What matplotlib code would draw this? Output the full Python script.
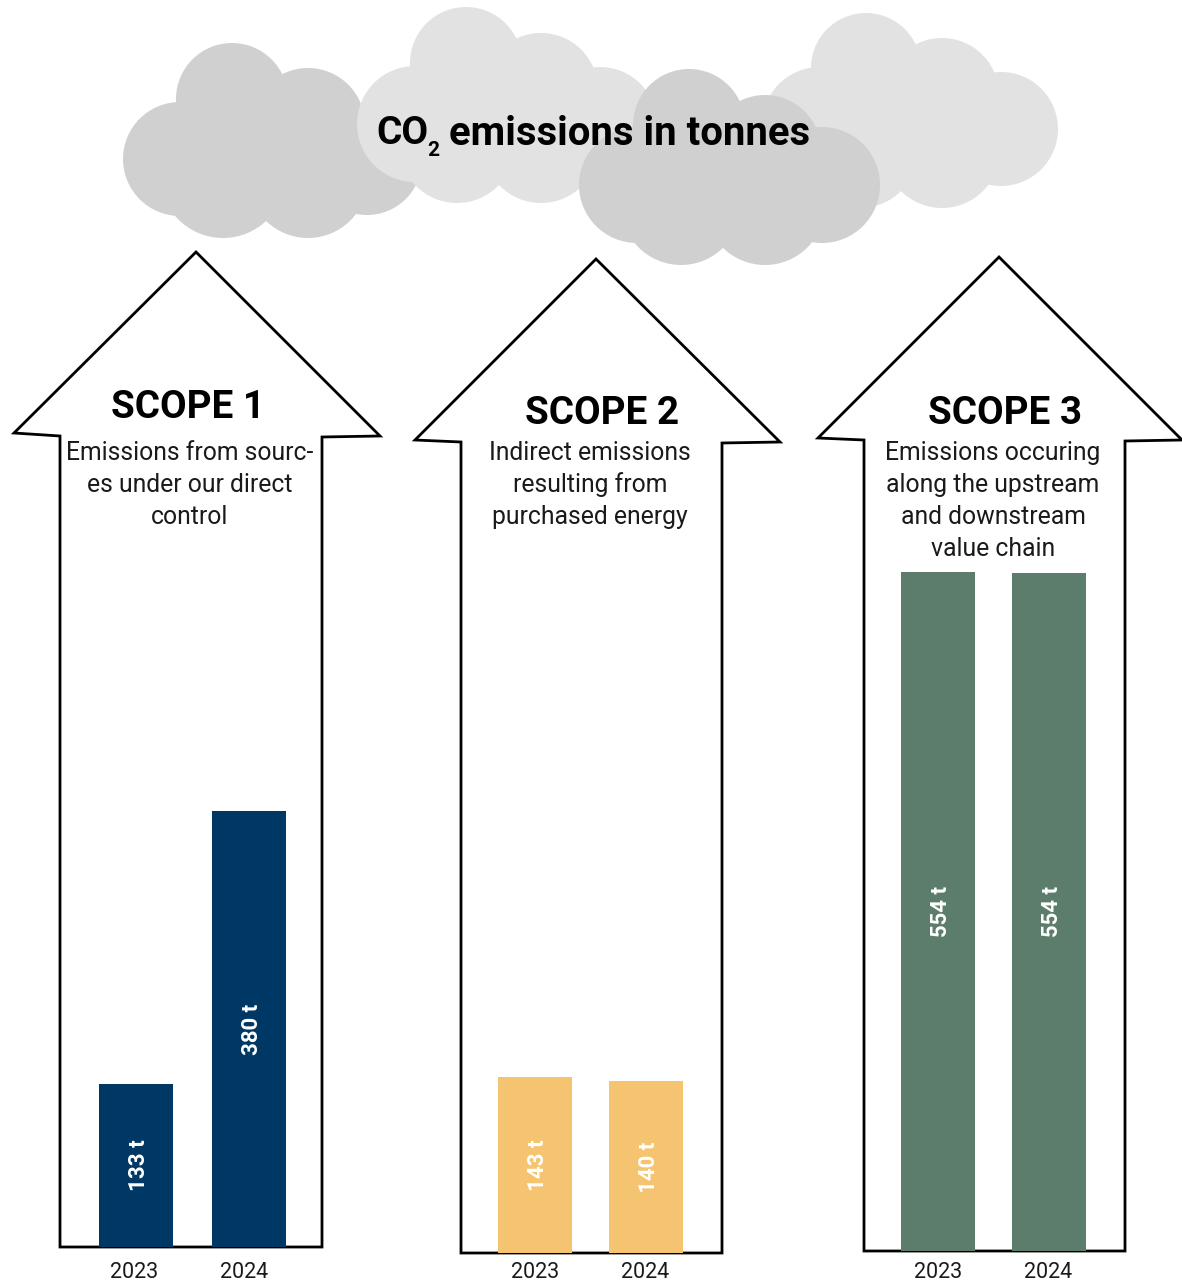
import matplotlib
matplotlib.use("Agg")
import matplotlib.pyplot as plt
from matplotlib.patches import Circle, Polygon

W, H = 1182, 1280
plt.rcParams['font.family'] = ['Roboto', 'DejaVu Sans']

# ----- data -----
years = ["2023", "2024"]
scope_names = ["SCOPE 1", "SCOPE 2", "SCOPE 3"]
scope_texts = [
    "Emissions from sourc-\nes under our direct\ncontrol",
    "Indirect emissions\nresulting from\npurchased energy",
    "Emissions occuring\nalong the upstream\nand downstream\nvalue chain",
]
# bar heights, labels as printed
scope1_heights = [133, 356]
scope2_heights = [143.5, 140.5]
scope3_heights = [554, 553.5]
scope1_labels = ["133 t", "380 t"]
scope2_labels = ["143 t", "140 t"]
scope3_labels = ["554 t", "554 t"]
bar_colors = ["#003865", "#F4C470", "#5C7C6C"]

# ----- layout in pixels -----
PX_PER_T = 1.225
BAR_W = 74
baselines = [1247, 1253, 1251]
bar_lefts = [(99, 212), (498, 609), (901, 1012)]
arrows = [
    [(196, 252), (14, 433), (60, 436), (60, 1247), (322, 1247), (322, 437), (380, 436)],
    [(596, 259), (415, 440), (461, 442), (461, 1253), (722, 1253), (722, 443), (780, 442)],
    [(999, 257), (818, 438), (864, 440), (864, 1251), (1125, 1251), (1125, 441), (1182, 440)],
]
year_x = [(134, 244), (535, 645), (938, 1048)]
name_pos = [(188, 408), (602, 414), (1005, 414)]
text_x = [190, 590, 993]

fig = plt.figure(figsize=(W / 100, H / 100), dpi=100)
bg = fig.add_axes([0, 0, 1, 1])
bg.set_xlim(0, W)
bg.set_ylim(H, 0)
bg.axis("off")

# ----- clouds -----
DARK = "#D0D0D0"
LIGHT = "#E2E2E2"


def cloud(circles, color, z):
    for cx, cy, r in circles:
        bg.add_patch(Circle((cx, cy), r, fc=color, ec="none", zorder=z))
    pts = [(c[0], c[1]) for c in circles]
    bg.add_patch(Polygon(pts, fc=color, ec="none", zorder=z))


cloud([(232, 99, 56), (308, 125, 57), (367, 160, 55), (308, 178, 60), (223, 175, 63), (180, 159, 57)], DARK, 1)
cloud([(866, 68, 55), (942, 95, 57), (1001, 129, 57), (942, 150, 58), (860, 150, 58), (820, 125, 58)], LIGHT, 1)
cloud([(466, 63, 56), (541, 90, 57), (600, 124, 57), (541, 145, 58), (457, 145, 58), (415, 124, 58)], LIGHT, 2)
cloud([(689, 125, 56), (765, 151, 56), (822, 185, 58), (765, 205, 60), (681, 205, 60), (637, 185, 58)], DARK, 3)

# title, subscript set by hand
bg.text(376, 134, "CO", fontsize=28, fontweight="bold", va="center", ha="left", color="black", zorder=5)
bg.text(427, 150, "2", fontsize=15, fontweight="bold", va="center", ha="left", color="black", zorder=5)
bg.text(449, 134, "emissions in tonnes", fontsize=28.8, fontweight="bold", va="center", ha="left", color="black", zorder=5)

# ----- arrows + texts -----
for i in range(3):
    bg.add_patch(Polygon(arrows[i], closed=True, fc="white", ec="black", lw=2, joinstyle="miter", zorder=6))
    bg.text(name_pos[i][0], name_pos[i][1], scope_names[i], fontsize=27.8, fontweight="bold",
            ha="center", va="center", color="black", zorder=7)
    for j, line in enumerate(scope_texts[i].split("\n")):
        bg.text(text_x[i], 453 + j * 32, line, fontsize=17.8, ha="center", va="center",
                color="#1A1A1A", zorder=7)
    for x, y in zip(year_x[i], years):
        bg.text(x, 1272, y, fontsize=15.5, ha="center", va="center", color="#1A1A1A", zorder=7)

# ----- bars -----
heights = [scope1_heights, scope2_heights, scope3_heights]
labels = [scope1_labels, scope2_labels, scope3_labels]
for i in range(3):
    x0 = arrows[i][3][0]
    x1 = arrows[i][4][0]
    base = baselines[i]
    top = 560
    ax = fig.add_axes([x0 / W, 1 - base / H, (x1 - x0) / W, (base - top) / H], zorder=2)
    ax.patch.set_alpha(0)
    ax.axis("off")
    ax.set_xlim(x0, x1)
    ax.set_ylim(0, (base - top) / PX_PER_T)
    centers = [left + BAR_W / 2 for left in bar_lefts[i]]
    bars = ax.bar(centers, heights[i], width=BAR_W, color=bar_colors[i])
    texts = ax.bar_label(bars, labels=labels[i], label_type="center", rotation=90, color="white",
                         fontweight="bold", fontsize=16)
    for t in texts:
        t.xyann = (2.2, 0)

fig.savefig("out.png", dpi=100)
